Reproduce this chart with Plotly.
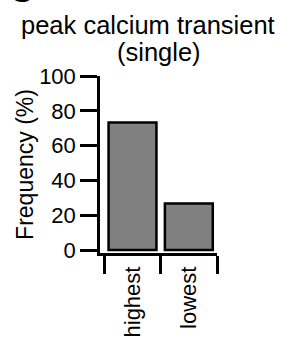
import plotly.graph_objects as go

categories = ["highest", "lowest"]
frequency = [73.3, 26.7]
y_ticks = [0, 20, 40, 60, 80, 100]

FONT = "Liberation Sans, Arial, Helvetica, sans-serif"

fig = go.Figure()
fig.add_trace(go.Bar(
    x=categories, y=frequency, width=0.85,
    marker=dict(color="#808080", line=dict(color="black", width=2.5)),
))

fig.update_layout(
    width=281, height=342,
    margin=dict(l=100, r=64, t=76, b=89, autoexpand=False),
    paper_bgcolor="white", plot_bgcolor="white",
    showlegend=False,
    font=dict(family=FONT, size=22, color="black"),
    xaxis=dict(
        type="category", range=[-0.577, 1.5], automargin=False,
        tickson="boundaries", ticks="outside", ticklen=18, tickwidth=2.5,
        tickcolor="black", showline=True, linecolor="black", linewidth=2.5,
        showgrid=False, zeroline=False, tickangle=-90,
        tickfont=dict(size=22), ticklabelstandoff=2,
    ),
    yaxis=dict(
        range=[-1.7, 100], tickvals=y_ticks, ticks="outside", ticklen=17,
        tickwidth=2.5, tickcolor="black", showline=True, linecolor="black",
        linewidth=2.5, showgrid=False, zeroline=False, automargin=False,
        tickfont=dict(size=22),
        title=dict(text="Frequency (%)", font=dict(size=23), standoff=0),
    ),
    annotations=[
        dict(text="peak calcium transient", xref="paper", yref="paper",
             x=(147.5 - 100) / 117, y=(253 - 25) / 177, xanchor="center",
             yanchor="middle", showarrow=False, font=dict(size=25.5)),
        dict(text="(single)", xref="paper", yref="paper",
             x=(159 - 100) / 117, y=(253 - 51.5) / 177, xanchor="center",
             yanchor="middle", showarrow=False, font=dict(size=25.5)),
        dict(text="<b>C</b>", xref="paper", yref="paper",
             x=(21 - 100) / 117, y=(253 - 11) / 177, xanchor="center",
             yanchor="bottom", showarrow=False, font=dict(size=34)),
    ],
)

fig.write_html(
    "out.html",
    config={"displayModeBar": False},
    post_script="document.body.style.margin='0';document.body.style.overflow='hidden';",
)
